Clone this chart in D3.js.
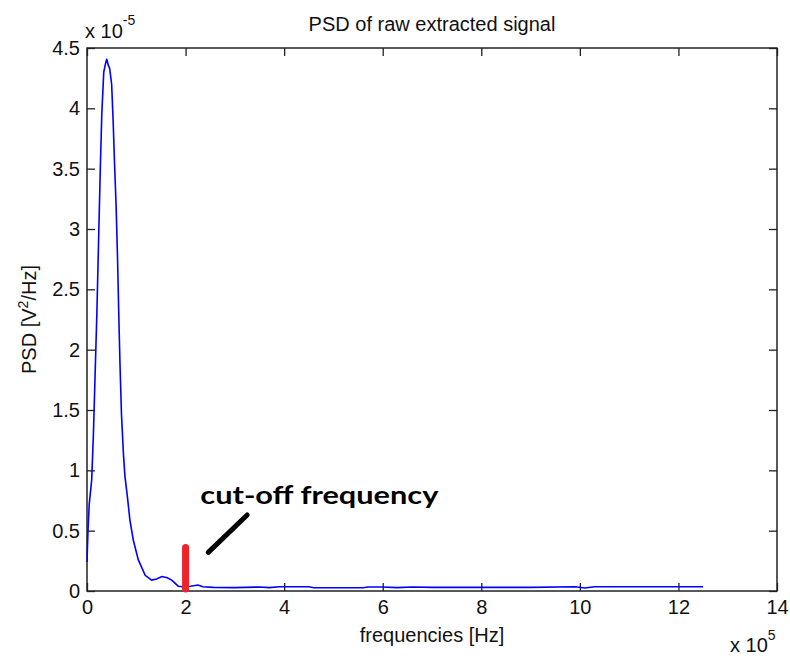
<!DOCTYPE html>
<html lang="en">
<head>
  <meta charset="UTF-8">
  <title>PSD of raw extracted signal</title>
  <style>
    body { margin: 0; background: #fff; }
    svg text { font-family: "Liberation Sans", Arial, sans-serif; fill: #111; }
    .note { font-family: Lato, "Open Sans", sans-serif; font-weight: bold; font-size: 25px; fill: #000; }
  </style>
</head>
<body>
  <svg id="chart" width="790" height="659"></svg>

  <script src="https://d3js.org/d3.v7.min.js"></script>
  <script>
    // frequency in units of 1e5 Hz, psd in units of 1e-5 V^2/Hz
    const freqs = [0, 0.02, 0.045, 0.095, 0.13, 0.165, 0.2, 0.235, 0.27, 0.3, 0.34, 0.37, 0.4, 0.43, 0.46,
      0.5, 0.53, 0.56, 0.59, 0.62, 0.65, 0.67, 0.7, 0.74, 0.77, 0.82, 0.87, 0.94, 1.04, 1.18,
      1.31, 1.41, 1.52, 1.63, 1.72, 1.85, 1.95, 2.1, 2.25, 2.35, 2.56, 3.0, 3.5, 3.7, 3.9,
      4.5, 4.6, 5.6, 5.7, 6.0, 6.3, 6.6, 7.0, 8.0, 9.0, 9.9, 10.1, 10.3, 11.0, 12.0, 12.5];
    const psd = [0.24, 0.5, 0.72, 0.92, 1.3, 1.8, 2.3, 2.9, 3.5, 3.95, 4.3, 4.36, 4.41, 4.36, 4.33,
      4.2, 3.9, 3.53, 3.2, 2.75, 2.2, 1.87, 1.46, 1.13, 0.95, 0.78, 0.59, 0.42, 0.26, 0.13,
      0.09, 0.1, 0.12, 0.11, 0.09, 0.04, 0.035, 0.04, 0.05, 0.035, 0.03, 0.028, 0.033, 0.028, 0.035,
      0.035, 0.027, 0.027, 0.033, 0.033, 0.028, 0.033, 0.03, 0.03, 0.03, 0.035, 0.025, 0.035, 0.035, 0.035, 0.035];

    const xTicks = [0, 2, 4, 6, 8, 10, 12, 14];
    const yTicks = [0, 0.5, 1, 1.5, 2, 2.5, 3, 3.5, 4, 4.5];

    const cutoff = [2, 0.36];          // red marker: frequency, top value
    const pointer = [[2.46, 0.32], [3.25, 0.63]];
    const noteAt = [2.3, 0.72];

    const svg = d3.select('#chart');
    const pl = 87, pr = 777, pt = 48, pb = 591;

    const x = d3.scaleLinear().domain([0, 14]).range([pl, pr]);
    const y = d3.scaleLinear().domain([0, 4.5]).range([pb, pt]);

    const fmt = d => String(d);
    const tickLen = 8;

    // axes (MATLAB style: ticks inside, mirrored on top/right)
    svg.append('g').attr('transform', `translate(0,${pb})`)
      .call(d3.axisBottom(x).tickValues(xTicks).tickFormat(fmt).tickSizeInner(-tickLen).tickSizeOuter(0).tickPadding(9))
      .call(g => g.select('.domain').remove());
    svg.append('g').attr('transform', `translate(0,${pt})`)
      .call(d3.axisTop(x).tickValues(xTicks).tickFormat('').tickSizeInner(-tickLen).tickSizeOuter(0))
      .call(g => g.select('.domain').remove());
    svg.append('g').attr('transform', `translate(${pl},0)`)
      .call(d3.axisLeft(y).tickValues(yTicks).tickFormat(fmt).tickSizeInner(-tickLen).tickSizeOuter(0).tickPadding(7))
      .call(g => g.select('.domain').remove());
    svg.append('g').attr('transform', `translate(${pr},0)`)
      .call(d3.axisRight(y).tickValues(yTicks).tickFormat('').tickSizeInner(-tickLen).tickSizeOuter(0))
      .call(g => g.select('.domain').remove());

    svg.selectAll('.tick line').attr('stroke', '#222').attr('stroke-width', 1.3);
    svg.selectAll('.tick text')
      .style('font-family', '"Liberation Sans", Arial, sans-serif').style('font-size', '20px').attr('fill', '#111');

    svg.append('rect')
      .attr('x', pl).attr('y', pt)
      .attr('width', pr - pl).attr('height', pb - pt)
      .attr('fill', 'none').attr('stroke', '#222').attr('stroke-width', 1.5);

    // psd curve
    const pts = freqs.map((f, i) => [f, psd[i]]);
    svg.append('path')
      .datum(pts)
      .attr('fill', 'none')
      .attr('stroke', '#0000ff')
      .attr('stroke-width', 1.6)
      .attr('d', d3.line().x(d => x(d[0])).y(d => y(d[1])));

    // cut-off marker
    svg.append('line')
      .attr('x1', x(cutoff[0])).attr('x2', x(cutoff[0]))
      .attr('y1', y(0) - 2).attr('y2', y(cutoff[1]))
      .attr('stroke', '#ee2228').attr('stroke-width', 7).attr('stroke-linecap', 'round');

    svg.append('line')
      .attr('x1', x(pointer[0][0])).attr('y1', y(pointer[0][1]))
      .attr('x2', x(pointer[1][0])).attr('y2', y(pointer[1][1]))
      .attr('stroke', '#000').attr('stroke-width', 5).attr('stroke-linecap', 'round');

    svg.append('text')
      .attr('class', 'note')
      .attr('x', x(noteAt[0])).attr('y', y(noteAt[1]))
      .attr('textLength', 238).attr('lengthAdjust', 'spacingAndGlyphs')
      .text('cut-off frequency');

    // title
    svg.append('text')
      .attr('x', (pl + pr) / 2).attr('y', 31)
      .attr('text-anchor', 'middle')
      .style('font-size', '20px')
      .text('PSD of raw extracted signal');

    // axis labels
    svg.append('text')
      .attr('x', (pl + pr) / 2).attr('y', 642)
      .attr('text-anchor', 'middle')
      .style('font-size', '20px')
      .text('frequencies [Hz]');

    const yl = svg.append('text')
      .attr('transform', `translate(36,${(pt + pb) / 2}) rotate(-90)`)
      .attr('text-anchor', 'middle')
      .style('font-size', '20px');
    yl.append('tspan').text('PSD [V');
    yl.append('tspan').attr('dy', -8).style('font-size', '14px').text('2');
    yl.append('tspan').attr('dy', 8).text('/Hz]');

    // exponent labels
    const e1 = svg.append('text').attr('x', 85).attr('y', 38).style('font-size', '20px');
    e1.append('tspan').text('x 10');
    e1.append('tspan').attr('dy', -13).style('font-size', '14px').text('-5');

    const e2 = svg.append('text').attr('x', 730).attr('y', 652).style('font-size', '20px');
    e2.append('tspan').text('x 10');
    e2.append('tspan').attr('dy', -12).style('font-size', '14px').text('5');
  </script>
</body>
</html>
